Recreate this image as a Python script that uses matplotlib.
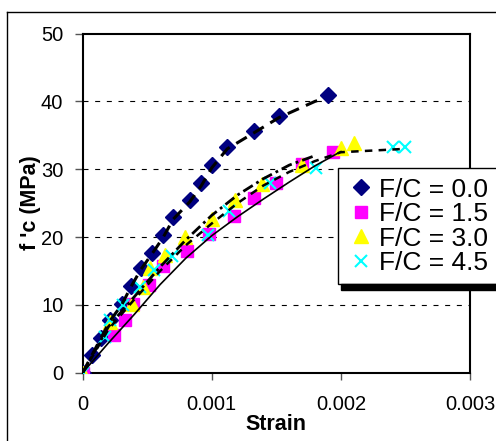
import matplotlib
matplotlib.use("Agg")
import matplotlib.pyplot as plt
from matplotlib.lines import Line2D
from matplotlib.patches import Rectangle

plt.rcParams['font.family'] = ['Liberation Sans', 'DejaVu Sans']

# ---- data (strain, MPa) ----
fc00_strain = [0, 0.00007, 0.00014, 0.00021, 0.000302, 0.000372, 0.00045, 0.00054, 0.000625,
               0.0007, 0.00083, 0.00092, 0.001, 0.00112, 0.00133, 0.00152, 0.0019]
fc00_stress = [0, 2.6, 5.1, 7.8, 10.1, 12.8, 15.4, 17.7, 20.3,
               22.9, 25.4, 27.9, 30.6, 33.2, 35.6, 37.8, 40.9]

fc15_strain = [0, 0.00024, 0.00033, 0.00039, 0.00051, 0.00062, 0.00081, 0.00098, 0.00117,
               0.00133, 0.0015, 0.0017, 0.00194]
fc15_stress = [0, 5.5, 7.8, 10.1, 12.9, 15.8, 18.0, 20.4, 23.1,
               25.7, 28.0, 30.8, 32.5]

fc30_strain = [0, 0.00021, 0.00038, 0.00047, 0.00052, 0.00064, 0.00079, 0.001, 0.00118,
               0.00139, 0.0017, 0.002, 0.0021]
fc30_stress = [0, 7.5, 10.1, 12.7, 15.4, 17.4, 20.0, 22.7, 25.4,
               27.8, 30.6, 33.1, 33.9]

fc45_strain = [0, 0.00017, 0.00021, 0.00031, 0.00044, 0.00055, 0.00069, 0.00097, 0.00113,
               0.00145, 0.00181, 0.0024, 0.0025]
fc45_stress = [0, 5.3, 7.7, 10.0, 12.7, 15.1, 17.2, 20.3, 23.9,
               27.9, 30.2, 33.2, 33.3]

# trend curves
curve00_strain = [0, 0.00021, 0.000302, 0.000372, 0.00045, 0.00054, 0.000625, 0.0007, 0.00083,
                  0.00092, 0.001, 0.00112, 0.00133, 0.00152, 0.0018, 0.00187]
curve00_stress = [0, 7.6, 10.0, 12.6, 15.2, 17.6, 20.0, 22.6, 25.2,
                  27.6, 30.2, 33.0, 35.4, 37.6, 40.0, 40.4]
curve15_strain = [0, 0.0002, 0.0004, 0.0006, 0.0008, 0.001, 0.0012, 0.0014, 0.0016, 0.0018, 0.002]
curve15_stress = [0, 4.4, 8.6, 13.0, 16.9, 20.2, 23.0, 25.6, 28.1, 30.5, 32.6]
curve30_strain = [0, 0.0002, 0.0004, 0.0006, 0.0008, 0.001, 0.0012, 0.0014, 0.0016, 0.0018]
curve30_stress = [0, 6.8, 11.2, 15.6, 19.6, 23.2, 26.2, 28.6, 30.6, 32.0]
curve45_strain = [0, 0.0002, 0.0004, 0.0006, 0.0008, 0.001, 0.0012, 0.0014, 0.0016, 0.0018, 0.002, 0.0025]
curve45_stress = [0, 6.4, 10.8, 15.0, 18.8, 22.0, 25.0, 27.6, 29.6, 31.2, 32.5, 33.0]

labels = ["F/C = 0.0", "F/C = 1.5", "F/C = 3.0", "F/C = 4.5"]
xticks = [0, 0.001, 0.002, 0.003]
xticklabels = ["0", "0.001", "0.002", "0.003"]
yticks = [0, 10, 20, 30, 40, 50]

W, H = 496, 441
fig = plt.figure(figsize=(W / 100, H / 100), dpi=100)
ax = fig.add_axes([82.7 / W, 1 - 372.7 / H, (470 - 82.7) / W, (372.7 - 33.5) / H])

ax.plot(fc00_strain, fc00_stress, 'D', color='#000080', ms=8.3, label=labels[0], zorder=3)
ax.plot(fc15_strain, fc15_stress, 's', color='#FF00FF', ms=9, label=labels[1], zorder=3)
ax.plot(fc30_strain, fc30_stress, '^', color='#FFFF00', ms=10.5, label=labels[2], zorder=3)
ax.plot(fc45_strain, fc45_stress, 'x', color='#00FFFF', ms=9, mew=1.5, label=labels[3], zorder=3)

ax.plot(curve00_strain, curve00_stress, color='black', lw=2.2, ls=(0, (4, 2.5)), zorder=4)
ax.plot(curve15_strain, curve15_stress, color='black', lw=1.2, ls='-', zorder=4)
ax.plot(curve30_strain, curve30_stress, color='black', lw=2.0, ls=(0, (4, 1.5, 1, 1.5)), zorder=4)
ax.plot(curve45_strain, curve45_stress, color='black', lw=1.8, ls=(0, (3, 2.5)), zorder=4)

ax.set_xlim(0, 0.003)
ax.set_ylim(0, 50)
ax.set_xticks(xticks)
ax.set_xticklabels(xticklabels)
ax.set_yticks(yticks)
for y in yticks[1:-1]:
    ax.axhline(y, color='black', lw=0.8, ls=(0, (4.5, 6)), zorder=1)

for s in ax.spines.values():
    s.set_linewidth(1.5)
    s.set_color('black')
ax.tick_params(axis='x', direction='out', length=5, width=1, color='#555555', pad=11, labelsize=14.5)
ax.tick_params(axis='y', direction='out', length=6, width=1, color='#555555', pad=8, labelsize=14.5)

ax.set_xlabel("Strain", fontsize=15.5, fontweight='bold', labelpad=0)
ax.set_ylabel("f 'c (MPa)", fontsize=15.5, fontweight='bold')
ax.yaxis.set_label_coords(-0.108, 0.5)

leg = ax.legend(loc='upper left', bbox_to_anchor=(337.7 / W, 1 - 168.3 / H),
                bbox_transform=fig.transFigure, fontsize=19, frameon=True,
                fancybox=False, edgecolor='black', framealpha=1, borderaxespad=0,
                handlelength=1.1, handletextpad=0.12, labelspacing=0.02,
                borderpad=0.35, markerscale=1.0)
leg.get_frame().set_linewidth(1.0)
leg.set_zorder(10)

# chart area border
fig.add_artist(Line2D([7 / W, 7 / W], [0, 1 - 12 / H], color='black', lw=1, transform=fig.transFigure))
fig.add_artist(Line2D([7 / W, 1], [1 - 12 / H, 1 - 12 / H], color='black', lw=1, transform=fig.transFigure))

# legend shadow (drawn below legend box)
fig.canvas.draw()
bb = leg.get_window_extent()
fig.add_artist(Rectangle(((bb.x0 + 3) / W, (bb.y0 - 6) / H), (bb.width) / W, 6 / H,
                         transform=fig.transFigure, color='black', zorder=9))

fig.savefig("out.png", dpi=100)
